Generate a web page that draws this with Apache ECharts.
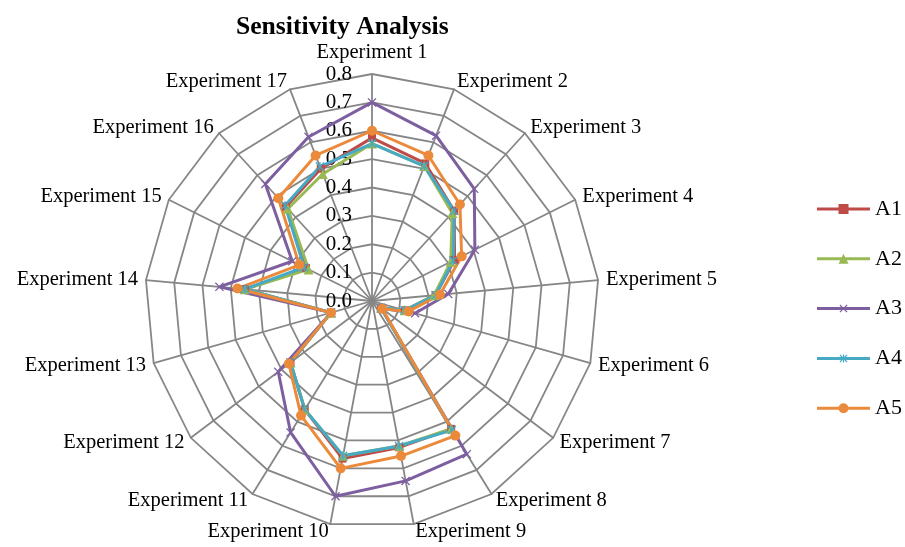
<!DOCTYPE html>
<html>
<head>
<meta charset="utf-8">
<script src="https://cdn.jsdelivr.net/npm/echarts@6/dist/echarts.min.js"></script>
<style>
html,body{margin:0;padding:0;background:#fff;}
#chart{width:905px;height:547px;}
</style>
</head>
<body>
<div id="chart"></div>
<script>
// ---- Data ----
const categories = ['Experiment 1','Experiment 2','Experiment 3','Experiment 4','Experiment 5','Experiment 6',
  'Experiment 7','Experiment 8','Experiment 9','Experiment 10','Experiment 11','Experiment 12','Experiment 13',
  'Experiment 14','Experiment 15','Experiment 16','Experiment 17'];
const seriesNames = ['A1','A2','A3','A4','A5'];
const A1 = [0.575,0.52,0.43,0.325,0.225,0.12,0.04,0.53,0.525,0.565,0.45,0.36,0.15,0.45,0.26,0.45,0.50];
const A2 = [0.555,0.51,0.42,0.31,0.22,0.12,0.04,0.53,0.52,0.555,0.45,0.36,0.15,0.45,0.25,0.44,0.48];
const A3 = [0.70,0.625,0.535,0.405,0.27,0.158,0.042,0.635,0.645,0.70,0.545,0.414,0.15,0.54,0.314,0.558,0.62];
const A4 = [0.555,0.51,0.43,0.32,0.225,0.12,0.04,0.535,0.52,0.555,0.45,0.36,0.15,0.45,0.267,0.455,0.508];
const A5 = [0.60,0.55,0.46,0.353,0.24,0.134,0.045,0.558,0.556,0.60,0.475,0.367,0.15,0.476,0.286,0.49,0.55];
const axisMin = 0, axisMax = 0.8, axisStep = 0.1;

// ---- Styles ----
const colors = ['#BE4B48','#98B954','#7D5FA0','#46AAC5','#EC8A3C'];
const FONT = 'Liberation Serif';
const xPts = [[0,1],[1,0],[5,4],[9,0],[10,1],[6,5],[10,9],[9,10],[5,6],[1,10],[0,9],[4,5]];
function polyPath(pts, s, ox, oy){
  return 'M' + pts.map(p => (p[0]*s+ox).toFixed(2)+','+(p[1]*s+oy).toFixed(2)).join(' L') + ' Z';
}
const barPts = [[4.3,0],[5.7,0],[5.7,10],[4.3,10]];
const xSym = 'path://' + polyPath(xPts,1,0,0);
const starSym = 'path://' + polyPath(xPts,1,0,0) + ' ' + polyPath(barPts,1,0,0);
const seriesSymbols = ['rect','triangle',xSym,starSym,'circle'];
const seriesSizes = [8,10,9,9,10];
const LINE = 'M0,3.5 L53,3.5 L53,6.5 L0,6.5 Z ';
const legendIcons = [
  'path://' + LINE + 'M21.5,0 L31.5,0 L31.5,10 L21.5,10 Z',
  'path://' + LINE + 'M26.5,0 L31.5,10 L21.5,10 Z',
  'path://' + LINE + polyPath(xPts,0.8,22.5,1),
  'path://' + LINE + polyPath(xPts,0.8,22.5,1) + ' ' + polyPath(barPts,0.8,22.5,1),
  'path://' + LINE + 'M21.5,5 A5,5 0 1,1 31.5,5 A5,5 0 1,1 21.5,5 Z'
];
const allData = [A1,A2,A3,A4,A5];

// ECharts lays indicators counter-clockwise; the reference runs clockwise,
// so indicator order is 1, 17, 16, ..., 2 and data is reordered the same way.
const order = [0].concat(categories.map((_, i) => i).slice(1).reverse());

const indicator = order.map((k, j) => {
  const ind = {name: categories[k], min: axisMin, max: axisMax};
  if (j === 0) {
    ind.axisLabel = {show: true, color:'#000', fontFamily: FONT, fontSize: 21, margin: 20,
      formatter: v => Number(v).toFixed(1)};
  }
  return ind;
});

const chart = echarts.init(document.getElementById('chart'), null, {renderer:'canvas'});
chart.setOption({
  animation: false,
  backgroundColor: '#fff',
  title: {
    text: 'Sensitivity Analysis', left: 231, top: 9,
    textStyle: {fontFamily: FONT, fontWeight: 'bold', fontSize: 25.6, color: '#000'}
  },
  legend: {
    orient: 'vertical', left: 817, top: 198, padding: 0,
    itemWidth: 53, itemHeight: 10, itemGap: 27.8,
    textStyle: {fontFamily: FONT, fontSize: 22, color: '#000', lineHeight: 22},
    data: seriesNames.map((n,i) => ({name: n, icon: legendIcons[i]}))
  },
  radar: {
    center: [372, 301], radius: 227, startAngle: 90, shape: 'polygon',
    splitNumber: Math.round((axisMax-axisMin)/axisStep),
    indicator: indicator,
    nameGap: 8,
    axisName: {color: '#000', fontFamily: FONT, fontSize: 20.5},
    splitLine: {lineStyle: {color: '#868686', width: 1.8}},
    axisLine: {lineStyle: {color: '#868686', width: 1.8}},
    splitArea: {show: false},
    axisTick: {show: false},
    axisLabel: {show: false}
  },
  series: seriesNames.map((n,i) => ({
    type: 'radar', name: n,
    symbol: seriesSymbols[i], symbolSize: seriesSizes[i],
    lineStyle: {color: colors[i], width: 3},
    itemStyle: {color: colors[i]},
    data: [{name: n, value: order.map(k => allData[i][k])}]
  }))
});
</script>
</body>
</html>
